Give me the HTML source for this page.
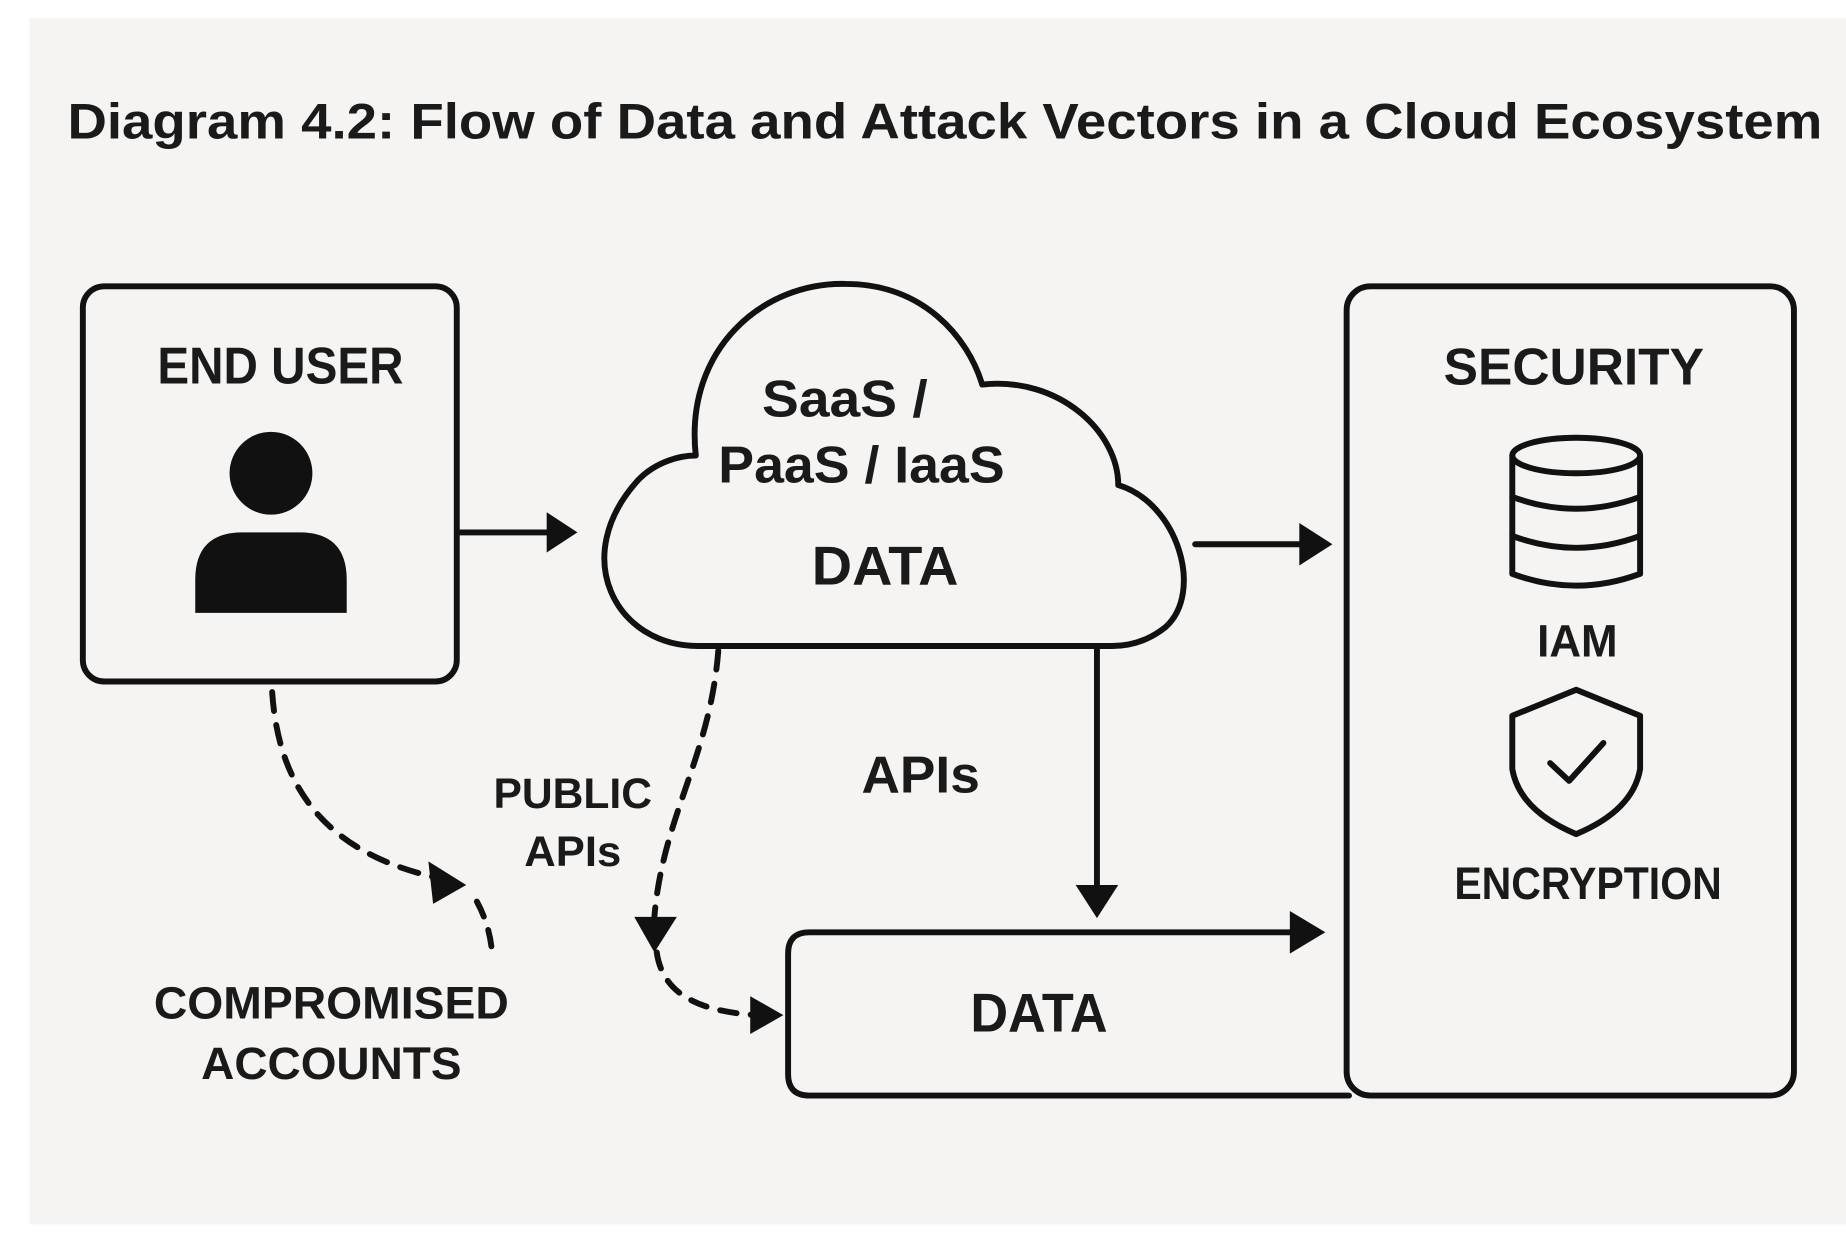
<!DOCTYPE html>
<html><head><meta charset="utf-8"><style>
html,body{margin:0;padding:0;background:#fff;}
svg{display:block;}
text{font-family:"Liberation Sans",sans-serif;font-weight:bold;fill:#1a1a1a;}
</style></head><body>
<svg width="1846" height="1234" viewBox="0 0 1560 1043" preserveAspectRatio="none" xmlns="http://www.w3.org/2000/svg">
<rect x="0" y="0" width="1560" height="1043" fill="#ffffff"/>
<rect x="25" y="15" width="1535" height="1020" fill="#f6f4f2"/>
<text x="57" y="117" font-size="42" textLength="1483" lengthAdjust="spacingAndGlyphs" font-weight="600">Diagram 4.2: Flow of Data and Attack Vectors in a Cloud Ecosystem</text>
<g fill="none" stroke="#111" stroke-width="5" stroke-linejoin="round" stroke-linecap="round">
<rect x="70" y="242" width="316" height="334" rx="18"/>
<line x1="388" y1="450" x2="466" y2="450"/>
<path d="M590,546 C520,546 480,470 540,405 C555,390 575,385 588,385 C578,295 645,238 715,240 C780,240 818,285 830,325 C895,318 945,365 945,410 C995,425 1018,500 985,530 C970,542 955,546 940,546 Z" fill="#f6f4f2"/>
<line x1="1010" y1="460" x2="1100" y2="460"/>
<rect x="1138" y="242" width="378" height="684" rx="20"/>
<line x1="927" y1="548" x2="927" y2="750"/>
<path d="M1095,788 L684,788 Q666,788 666,806 L666,908 Q666,926 684,926 L1140,926"/>
<path d="M230,585 C235,660 270,720 370,742" stroke-dasharray="16,12"/>
<path d="M403,762 C410,775 415,790 416,808" stroke-dasharray="14,12"/>
<path d="M607,550 C600,640 560,690 553,775" stroke-dasharray="16,12"/>
<path d="M555,805 C560,840 590,855 640,858" stroke-dasharray="14,12"/>
<!-- db -->
<ellipse cx="1332" cy="385" rx="54" ry="15"/>
<path d="M1278,385 L1278,485 Q1332,505 1386,485 L1386,385"/>
<path d="M1278,420 Q1332,440 1386,420"/>
<path d="M1278,453 Q1332,473 1386,453"/>
<!-- shield -->
<path d="M1332,583 L1386,605 L1386,650 Q1380,685 1332,705 Q1284,685 1278,650 L1278,605 Z"/>
<path d="M1310,645 L1326,660 L1355,628"/>
</g>
<g fill="#111">
<polygon points="462,433 488,450 462,467"/>
<polygon points="1098,442 1126,460 1098,478"/>
<polygon points="909,748 945,748 927,776"/>
<polygon points="1090,770 1120,788 1090,806"/>
<polygon points="362,728 394,748 366,764"/>
<polygon points="536,775 572,775 553,805"/>
<polygon points="634,842 662,858 634,874"/>
<circle cx="229" cy="400" r="35"/>
<path d="M165,518 L165,490 Q165,450 205,450 L253,450 Q293,450 293,490 L293,518 Z"/>
</g>
<text x="237" y="324" font-size="44" text-anchor="middle" textLength="208" lengthAdjust="spacingAndGlyphs">END USER</text>
<text x="714" y="352" font-size="44" text-anchor="middle" textLength="140" lengthAdjust="spacingAndGlyphs" font-weight="600">SaaS /</text>
<text x="728" y="408" font-size="44" text-anchor="middle" textLength="242" lengthAdjust="spacingAndGlyphs" font-weight="600">PaaS / IaaS</text>
<text x="748" y="494" font-size="46" text-anchor="middle" textLength="124" lengthAdjust="spacingAndGlyphs">DATA</text>
<text x="1330" y="325" font-size="44" text-anchor="middle" textLength="220" lengthAdjust="spacingAndGlyphs">SECURITY</text>
<text x="1333" y="555" font-size="38" text-anchor="middle" textLength="68" lengthAdjust="spacingAndGlyphs" font-weight="600">IAM</text>
<text x="1342" y="760" font-size="38" text-anchor="middle" textLength="226" lengthAdjust="spacingAndGlyphs" font-weight="600">ENCRYPTION</text>
<text x="778" y="670" font-size="44" text-anchor="middle" textLength="100" lengthAdjust="spacingAndGlyphs">APIs</text>
<text x="484" y="683" font-size="36" text-anchor="middle" textLength="134" lengthAdjust="spacingAndGlyphs" font-weight="600">PUBLIC</text>
<text x="484" y="732" font-size="36" text-anchor="middle" textLength="82" lengthAdjust="spacingAndGlyphs" font-weight="600">APIs</text>
<text x="878" y="872" font-size="46" text-anchor="middle" textLength="116" lengthAdjust="spacingAndGlyphs">DATA</text>
<text x="280" y="861" font-size="38" text-anchor="middle" textLength="300" lengthAdjust="spacingAndGlyphs" font-weight="600">COMPROMISED</text>
<text x="280" y="912" font-size="38" text-anchor="middle" textLength="220" lengthAdjust="spacingAndGlyphs" font-weight="600">ACCOUNTS</text>
</svg>
</body></html>
